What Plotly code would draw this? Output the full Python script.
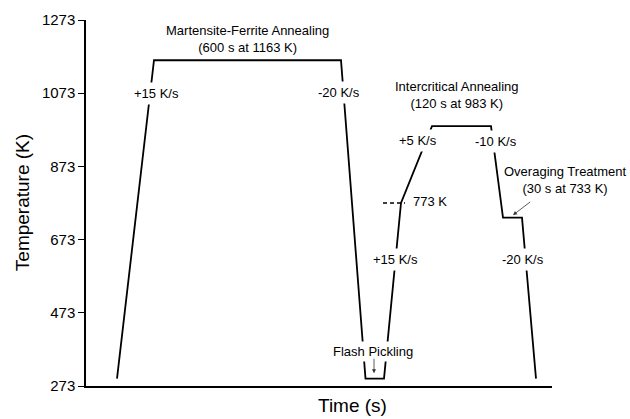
import plotly.graph_objects as go

# Schematic heat-treatment schedule (time axis is not to scale)
t_sched = [31, 68, 255, 279.5, 298, 315, 346, 405, 417, 436, 450]
temp_K = [293, 1163, 1163, 293, 293, 773, 983, 983, 733, 733, 293]

# Reference line marking the change of heating rate
t_ref = [297, 319]
temp_ref = [773, 773]

y_ticks = [273, 473, 673, 873, 1073, 1273]

FONT = "Liberation Sans, Arial, sans-serif"

fig = go.Figure()
fig.add_trace(go.Scatter(x=t_sched, y=temp_K, mode="lines",
                         line=dict(color="black", width=1.8),
                         hoverinfo="skip", showlegend=False))
fig.add_trace(go.Scatter(x=t_ref, y=temp_ref, mode="lines",
                         line=dict(color="black", width=1.4, dash="4px,3px"),
                         hoverinfo="skip", showlegend=False))

def label(x, y, text, bg=True, **kw):
    d = dict(x=x, y=y, xref="x", yref="y", text=text, showarrow=False,
             font=dict(family=FONT, size=13, color="black"))
    if bg:
        d.update(bgcolor="white", borderpad=3)
    d.update(kw)
    fig.add_annotation(**d)

# Stage descriptions
label(161, 1220, "Martensite-Ferrite Annealing<br>(600 s at 1163 K)", bg=False)
label(371, 1068, "Intercritical Annealing<br>(120 s at 983 K)", bg=False)
# this one sits past the right end of the time axis, so place it in paper units
fig.add_annotation(x=1.028, y=0.564, xref="paper", yref="paper",
                   text="Overaging Treatment<br>(30 s at 733 K)", showarrow=False,
                   xanchor="center", yanchor="middle",
                   font=dict(family=FONT, size=13, color="black"))

# Heating / cooling rates
label(70, 1073, "+15 K/s")
label(252.7, 1076, "-20 K/s")
label(331.5, 944, "+5 K/s")
label(409.7, 942, "-10 K/s")
label(309, 620, "+15 K/s")
label(437.3, 618, "-20 K/s")
label(324.7, 778, "773 K", bg=False, xanchor="left")
label(287, 366, "Flash Pickling", borderpad=2)

# Pointer arrows
fig.add_annotation(x=427, y=740, xref="x", yref="y", ax=18.7, ay=-14.3,
                   text="", showarrow=True, arrowhead=2, arrowsize=1,
                   arrowwidth=0.8, arrowcolor="#333333")
fig.add_annotation(x=288, y=308, xref="x", yref="y", ax=0, ay=-16,
                   text="", showarrow=True, arrowhead=2, arrowsize=1,
                   arrowwidth=0.8, arrowcolor="#333333")

# Axis titles
fig.add_annotation(x=0.571, y=-0.0533, xref="paper", yref="paper",
                   text="Time (s)", showarrow=False, xanchor="center",
                   yanchor="middle", font=dict(family=FONT, size=19, color="black"))
fig.add_annotation(x=-0.137, y=0.5, xref="paper", yref="paper",
                   text="Temperature (K)", showarrow=False, textangle=-90,
                   xanchor="center", yanchor="middle",
                   font=dict(family=FONT, size=19, color="black"))

fig.update_layout(
    width=630, height=419,
    margin=dict(l=86, r=78, t=11, b=33),
    paper_bgcolor="white", plot_bgcolor="white",
    font=dict(family=FONT, color="black"),
    showlegend=False, hovermode=False,
    xaxis=dict(range=[0, 466], showline=True, linecolor="black", linewidth=1.5,
               showticklabels=False, ticks="", showgrid=False, zeroline=False),
    yaxis=dict(range=[273, 1273], tickvals=y_ticks, showline=True,
               linecolor="black", linewidth=1.5, ticks="outside", ticklen=6,
               tickwidth=1.3, tickcolor="black", showgrid=False, zeroline=False,
               tickfont=dict(family=FONT, size=15, color="black")),
)

fig.write_html("out.html")
